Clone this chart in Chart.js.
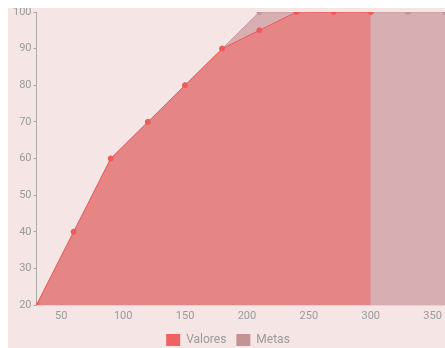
<!DOCTYPE html>
<html>
<head>
<meta charset="utf-8">
<script src="https://cdn.jsdelivr.net/npm/chart.js@4"></script>
<style>
    body { margin: 8px 0 0 8px; background: #fff; overflow: hidden; }
    #wrap { width: 437px; height: 340px; background: #f5e5e5; }
</style>
</head>
<body>
<div id="wrap"><canvas id="chart" width="437" height="340"></canvas></div>
<script>
// datos
const valoresX = [30, 60, 90, 120, 150, 180, 210, 240, 270, 300];
const valoresY = [20, 40, 60, 70, 80, 90, 95, 100, 100, 100];
const metasX = [30, 60, 90, 120, 150, 180, 210, 240, 270, 300, 330, 360];
const metasY = [20, 40, 60, 70, 80, 90, 100, 100, 100, 100, 100, 100];
const xTicks = [50, 100, 150, 200, 250, 300, 350];
const yTicks = [20, 30, 40, 50, 60, 70, 80, 90, 100];

document.addEventListener("DOMContentLoaded", function () {
    const toPoints = (xs, ys) => xs.map((x, i) => ({ x: x, y: ys[i] }));

    const data = {
        datasets: [{
            label: 'Valores',
            data: toPoints(valoresX, valoresY),
            backgroundColor: 'rgba(232, 122, 122, 0.8)',
            borderColor: 'rgba(240, 90, 90, 1)',
            pointBackgroundColor: '#f05a5a',
            pointBorderColor: '#f05a5a',
            borderWidth: 1,
            pointRadius: 2.5,
            fill: 'origin',
            order: 1
        }, {
            label: 'Metas',
            data: toPoints(metasX, metasY),
            backgroundColor: 'rgba(190, 132, 138, 0.55)',
            borderColor: 'rgba(195, 145, 145, 0.8)',
            pointBackgroundColor: '#c49494',
            pointBorderColor: '#c49494',
            borderWidth: 1,
            pointRadius: 2.5,
            fill: 'origin',
            order: 2
        }]
    };

    const legendColors = ['#f06262', '#c49494'];

    const config = {
        type: 'line',
        data: data,
        options: {
            responsive: false,
            animation: false,
            layout: { autoPadding: false, padding: { top: 4, right: 0, left: 3, bottom: -8 } },
            scales: {
                x: {
                    type: 'linear',
                    min: 30,
                    max: 360,
                    afterBuildTicks: function (axis) {
                        axis.ticks = xTicks.map(v => ({ value: v }));
                    },
                    afterFit: function (axis) {
                        axis.paddingRight = 0;
                        axis.height = 19;
                    },
                    grid: { display: false, drawTicks: false },
                    border: { color: 'rgba(0,0,0,0.08)' },
                    ticks: { color: '#9a9a9a', font: { family: 'Roboto', size: 11 }, padding: 5 }
                },
                y: {
                    min: 20,
                    max: 100,
                    afterBuildTicks: function (axis) {
                        axis.ticks = yTicks.map(v => ({ value: v }));
                    },
                    afterFit: function (axis) {
                        axis.paddingTop = 0;
                    },
                    grid: { drawOnChartArea: false, tickLength: 3, color: '#aaa' },
                    border: { color: '#aaa' },
                    ticks: { color: '#9a9a9a', font: { family: 'Roboto', size: 11 }, padding: 2 }
                }
            },
            plugins: {
                legend: {
                    position: 'bottom',
                    labels: {
                        boxWidth: 14,
                        boxHeight: 12,
                        color: '#9a9a9a',
                        font: { family: 'Roboto', size: 12 },
                        padding: 10,
                        generateLabels: function (chart) {
                            return chart.data.datasets.map((ds, i) => ({
                                text: ds.label,
                                fillStyle: legendColors[i],
                                strokeStyle: legendColors[i],
                                lineWidth: 0,
                                fontColor: '#9a9a9a',
                                datasetIndex: i
                            }));
                        }
                    }
                },
                tooltip: { enabled: false }
            }
        }
    };

    new Chart(document.getElementById('chart'), config);
});
</script>
</body>
</html>
